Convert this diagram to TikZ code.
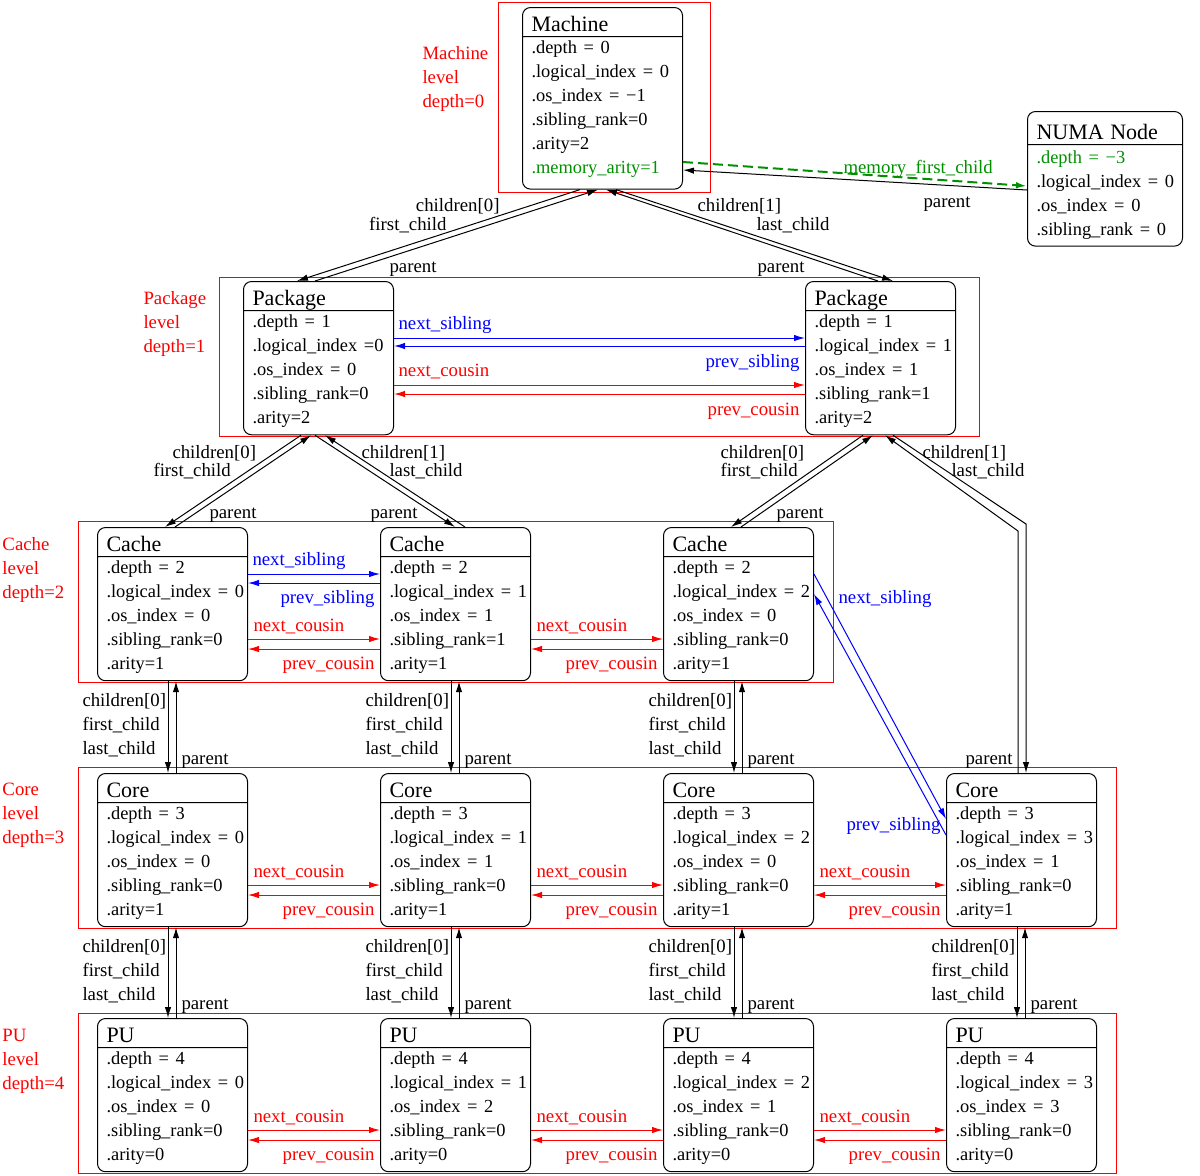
\documentclass[tikz,border=0pt]{standalone}
\usepackage{fontspec}
\setmainfont{Liberation Serif}
\usetikzlibrary{calc}
\usetikzlibrary{shapes.multipart}
\usetikzlibrary{arrows.meta}

\definecolor{memgreen}{RGB}{0,144,0}

% header line, first and last body line of an object box
\newcommand{\hd}[2][14pt]{\fontsize{11}{13}\selectfont\rule[-2.35pt]{0pt}{#1}#2}
\newcommand{\fst}[1][8.4pt]{\fontsize{9.2}{11.9}\selectfont\hbadness=10000\hfuzz=20pt\rule{0pt}{#1}}
\newcommand{\lst}[1][5.5pt]{\rule[-#1]{0pt}{#1}}

\tikzset{
  obj/.style={draw, rectangle split, rectangle split parts=2, rounded corners=4pt,
    anchor=north west, inner xsep=4.5pt, inner ysep=0pt, text width=66pt, align=left},
  lbl/.style={inner sep=0pt, text height=7pt, text depth=0pt, font=\fontsize{9.4}{11.9}\selectfont},
  lvl/.style={red, inner sep=0pt, anchor=north west, align=left, font=\fontsize{9.4}{11.9}\selectfont},
  levelbox/.style={red},
  ptr/.style={-{Latex[length=5.5pt,width=3.2pt]}},
}

\begin{document}
\begin{tikzpicture}[x=0.5pt, y=-0.5pt, line width=0.5pt]
      \useasboundingbox (0,0) rectangle (1200,1175);

      % level frames
      \draw[levelbox] (498,2) rectangle (710,192);
      \draw[levelbox] (219,277) rectangle (979,436);
      \draw[levelbox] (78,521) rectangle (833,682);
      \draw[levelbox] (78,767) rectangle (1116,928);
      \draw[levelbox] (78,1013) rectangle (1116,1173);

      \node[lvl] (lvmach) at (422,45) {\rule{0pt}{7pt}Machine\\level\\depth=0};
      \node[lvl] (lvpk) at (143,290) {\rule{0pt}{7pt}Package\\level\\depth=1};
      \node[lvl] (lvca) at (2,536) {\rule{0pt}{7pt}Cache\\level\\depth=2};
      \node[lvl] (lvco) at (2,781) {\rule{0pt}{7pt}Core\\level\\depth=3};
      \node[lvl] (lvpu) at (2,1027) {\rule{0pt}{7pt}PU\\level\\depth=4};

      % objects
      \node[obj, text width=71pt] (mach) at (522,7) {\hd{Machine}\nodepart{two}\fst .depth~=~0\\ .logical\_index~=~0\\ .os\_index~=~−1\\ .sibling\_rank=0\\ .arity=2\\ \textcolor{memgreen}{.memory\_arity=1}\lst[7.8pt]};
      \node[obj, text width=68.5pt] (numa) at (1027,111) {\hd[16pt]{NUMA Node}\nodepart{two}\fst[9.4pt]\textcolor{memgreen}{.depth~=~−3}\\ .logical\_index~=~0\\ .os\_index~=~0\\ .sibling\_rank~=~0\lst[5.1pt]};

      \node[obj] (pk0) at (243,281) {\hd{Package}\nodepart{two}\fst .depth~=~1\\ .logical\_index~=0\\ .os\_index~=~0\\ .sibling\_rank=0\\ .arity=2\lst};
      \node[obj] (pk1) at (805,281) {\hd{Package}\nodepart{two}\fst .depth~=~1\\ .logical\_index~=~1\\ .os\_index~=~1\\ .sibling\_rank=1\\ .arity=2\lst};

      \node[obj] (ca0) at (97,527) {\hd{Cache}\nodepart{two}\fst .depth~=~2\\ .logical\_index~=~0\\ .os\_index~=~0\\ .sibling\_rank=0\\ .arity=1\lst};
      \node[obj] (ca1) at (380,527) {\hd{Cache}\nodepart{two}\fst .depth~=~2\\ .logical\_index~=~1\\ .os\_index~=~1\\ .sibling\_rank=1\\ .arity=1\lst};
      \node[obj] (ca2) at (663,527) {\hd{Cache}\nodepart{two}\fst .depth~=~2\\ .logical\_index~=~2\\ .os\_index~=~0\\ .sibling\_rank=0\\ .arity=1\lst};

      \node[obj] (co0) at (97,773) {\hd{Core}\nodepart{two}\fst .depth~=~3\\ .logical\_index~=~0\\ .os\_index~=~0\\ .sibling\_rank=0\\ .arity=1\lst};
      \node[obj] (co1) at (380,773) {\hd{Core}\nodepart{two}\fst .depth~=~3\\ .logical\_index~=~1\\ .os\_index~=~1\\ .sibling\_rank=0\\ .arity=1\lst};
      \node[obj] (co2) at (663,773) {\hd{Core}\nodepart{two}\fst .depth~=~3\\ .logical\_index~=~2\\ .os\_index~=~0\\ .sibling\_rank=0\\ .arity=1\lst};
      \node[obj] (co3) at (946,773) {\hd{Core}\nodepart{two}\fst .depth~=~3\\ .logical\_index~=~3\\ .os\_index~=~1\\ .sibling\_rank=0\\ .arity=1\lst};

      \node[obj] (pu0) at (97,1018) {\hd{PU}\nodepart{two}\fst .depth~=~4\\ .logical\_index~=~0\\ .os\_index~=~0\\ .sibling\_rank=0\\ .arity=0\lst};
      \node[obj] (pu1) at (380,1018) {\hd{PU}\nodepart{two}\fst .depth~=~4\\ .logical\_index~=~1\\ .os\_index~=~2\\ .sibling\_rank=0\\ .arity=0\lst};
      \node[obj] (pu2) at (663,1018) {\hd{PU}\nodepart{two}\fst .depth~=~4\\ .logical\_index~=~2\\ .os\_index~=~1\\ .sibling\_rank=0\\ .arity=0\lst};
      \node[obj] (pu3) at (946,1018) {\hd{PU}\nodepart{two}\fst .depth~=~4\\ .logical\_index~=~3\\ .os\_index~=~3\\ .sibling\_rank=0\\ .arity=0\lst};

      % machine <-> numa node
      \draw[ptr, memgreen, line width=1pt, dash pattern=on 5pt off 2.5pt] ($(mach.north east)+(0,155)$) -- ($(numa.north west)+(0,75)$);
      \draw[ptr] ($(numa.north west)+(0,79)$) -- ($(mach.north east)+(0,163)$);
      \node[lbl, memgreen, anchor=west] (tmem) at (843,166) {memory\_first\_child};
      \node[lbl, anchor=west] (tmemup) at (923,200) {parent};

      % machine <-> packages
      \draw[ptr] ($(mach.south west)+(58,0)$) -- ($(pk0.north west)+(54,0)$);
      \draw[ptr] ($(pk0.north west)+(72,0)$) -- ($(mach.south west)+(76,0)$);
      \draw[ptr] ($(mach.south west)+(94,0)$) -- ($(pk1.north west)+(88,0)$);
      \draw[ptr] ($(pk1.north west)+(73,0)$) -- ($(mach.south west)+(84,0)$);
      \node[lbl, anchor=east] (tpk0c) at (500,204) {children[0]};
      \node[lbl, anchor=east] (tpk0f) at (447,223) {first\_child};
      \node[lbl, anchor=west] (tpk0p) at (389,265) {parent};
      \node[lbl, anchor=west] (tpk1c) at (697,204) {children[1]};
      \node[lbl, anchor=west] (tpk1l) at (756,223) {last\_child};
      \node[lbl, anchor=west] (tpk1p) at (757,265) {parent};

      % package siblings and cousins
      \draw[ptr, blue] ($(pk0.north east)+(0,57)$) -- ($(pk1.north west)+(0,57)$);
      \draw[ptr, blue] ($(pk1.north west)+(0,65)$) -- ($(pk0.north east)+(0,65)$);
      \draw[ptr, red] ($(pk0.north east)+(0,104)$) -- ($(pk1.north west)+(0,104)$);
      \draw[ptr, red] ($(pk1.north west)+(0,113)$) -- ($(pk0.north east)+(0,113)$);
      \node[lbl, blue, anchor=west] (tpkns) at (398,322) {next\_sibling};
      \node[lbl, blue, anchor=east] (tpkps) at (800,360) {prev\_sibling};
      \node[lbl, red, anchor=west] (tpknc) at (398,369) {next\_cousin};
      \node[lbl, red, anchor=east] (tpkpc) at (800,408) {prev\_cousin};

      % packages <-> caches and core 3
      \draw[ptr] ($(pk0.south west)+(58,0)$) -- ($(ca0.north west)+(68,0)$);
      \draw[ptr] ($(ca0.north west)+(78,0)$) -- ($(pk0.south west)+(68,0)$);
      \draw[ptr] ($(pk0.south west)+(72,0)$) -- ($(ca1.north west)+(75,0)$);
      \draw[ptr] ($(ca1.north west)+(85,0)$) -- ($(pk0.south west)+(82,0)$);
      \draw[ptr] ($(pk1.south west)+(58,0)$) -- ($(ca2.north west)+(68,0)$);
      \draw[ptr] ($(ca2.north west)+(78,0)$) -- ($(pk1.south west)+(68,0)$);
      \draw[ptr] ($(pk1.south west)+(88,0)$) -- ($(co3.north west)+(80,-249)$) -- ($(co3.north west)+(80,0)$);
      \draw[ptr] ($(co3.north west)+(72,0)$) -- ($(co3.north west)+(72,-242)$) -- ($(pk1.south west)+(80,0)$);
      \node[lbl, anchor=west] (tca0c) at (172,451) {children[0]};
      \node[lbl, anchor=west] (tca0f) at (153,469) {first\_child};
      \node[lbl, anchor=west] (tca0p) at (209,511) {parent};
      \node[lbl, anchor=west] (tca1c) at (361,451) {children[1]};
      \node[lbl, anchor=west] (tca1l) at (389,469) {last\_child};
      \node[lbl, anchor=west] (tca1p) at (370,511) {parent};
      \node[lbl, anchor=west] (tca2c) at (720,451) {children[0]};
      \node[lbl, anchor=west] (tca2f) at (720,469) {first\_child};
      \node[lbl, anchor=west] (tca2p) at (776,511) {parent};
      \node[lbl, anchor=west] (tco3c) at (922,451) {children[1]};
      \node[lbl, anchor=west] (tco3l) at (951,469) {last\_child};
      \node[lbl, anchor=west] (tco3p) at (965,757) {parent};

      % cache siblings
      \draw[ptr, blue] ($(ca0.north east)+(0,47)$) -- ($(ca1.north west)+(0,47)$);
      \draw[ptr, blue] ($(ca1.north west)+(0,56)$) -- ($(ca0.north east)+(0,56)$);
      \node[lbl, blue, anchor=west] (tca0ns) at (252,558) {next\_sibling};
      \node[lbl, blue, anchor=east] (tca1ps) at (375,596) {prev\_sibling};
      \draw[ptr, blue] ($(ca2.north east)+(0,47)$) -- ($(co3.north west)+(0,46)$);
      \draw[ptr, blue] ($(co3.north west)+(0,62)$) -- ($(ca2.north east)+(0,67)$);
      \node[lbl, blue, anchor=west] (tca2ns) at (838,596) {next\_sibling};
      \node[lbl, blue, anchor=east] (tco3ps) at (941,823) {prev\_sibling};

      % cousins
      \foreach \a/\b in {ca0/ca1, ca1/ca2, co0/co1, co1/co2, co2/co3, pu0/pu1, pu1/pu2, pu2/pu3} {
        \draw[ptr, red] ($(\a.north east)+(0,112)$) -- ($(\b.north west)+(0,112)$);
        \draw[ptr, red] ($(\b.north west)+(0,122)$) -- ($(\a.north east)+(0,122)$);
        \node[lbl, red, anchor=west] (\a-nc) at ($(\a.north east)+(5,97)$) {next\_cousin};
        \node[lbl, red, anchor=east] (\b-pc) at ($(\b.north west)+(-5,135)$) {prev\_cousin};
      }

      % single children
      \foreach \u/\d in {ca0/co0, ca1/co1, ca2/co2, co0/pu0, co1/pu1, co2/pu2, co3/pu3} {
        \draw[ptr] ($(\u.south west)+(71,0)$) -- ($(\d.north west)+(71,0)$);
        \draw[ptr] ($(\d.north west)+(79,0)$) -- ($(\u.south west)+(79,0)$);
        \node[lbl, anchor=west] (\d-c) at ($(\u.south west)+(-15,18)$) {children[0]};
        \node[lbl, anchor=west] (\d-f) at ($(\u.south west)+(-15,42)$) {first\_child};
        \node[lbl, anchor=west] (\d-l) at ($(\u.south west)+(-15,66)$) {last\_child};
        \node[lbl, anchor=west] (\d-p) at ($(\d.north west)+(84,-16)$) {parent};
      }
    \end{tikzpicture}
\end{document}
